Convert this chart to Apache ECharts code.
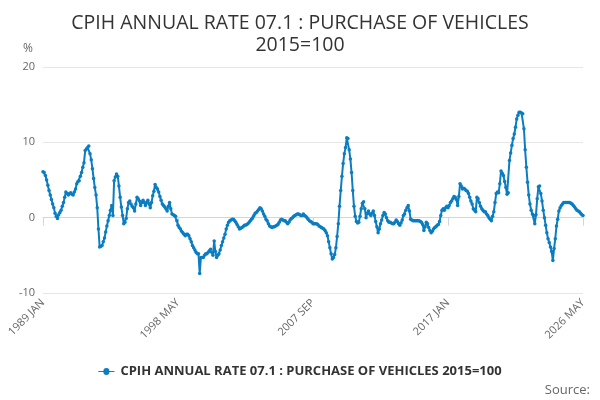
<!DOCTYPE html>
<html><head><meta charset="utf-8">
<script src="https://cdn.jsdelivr.net/npm/echarts@6/dist/echarts.min.js"></script>
<style>html,body{margin:0;padding:0;background:#fff}#c{width:600px;height:400px}</style>
</head><body><div id="c"></div>
<script>
const months = ["JAN","FEB","MAR","APR","MAY","JUN","JUL","AUG","SEP","OCT","NOV","DEC"];
const firstYear = 1989, lastYear = 2026, lastMonthCount = 5;
const values = [
6.1,6.0,5.6,5.0,4.3,3.6,3.0,2.4,1.8,1.3,0.6,0.2,
-0.1,0.4,0.7,1.0,1.5,2.0,2.7,3.4,3.2,3.0,3.2,3.3,
3.1,3.0,3.4,3.8,4.5,4.8,4.9,5.5,6.0,6.7,7.3,8.9,
9.1,9.3,9.5,8.5,7.7,6.5,5.2,4.0,3.0,1.3,-1.5,-3.9,
-3.8,-3.7,-3.2,-2.7,-1.9,-1.1,-0.4,0.3,1.0,1.6,0.3,4.9,
5.4,5.8,5.5,4.2,2.7,1.4,0.3,-0.8,-0.6,-0.1,1.2,2.0,
2.2,1.8,1.5,1.3,0.9,1.8,2.7,2.5,2.2,1.6,2.0,2.3,
2.0,1.6,2.0,2.3,1.8,1.3,2.0,2.9,3.5,4.4,4.0,3.8,
3.4,2.8,2.3,1.8,1.6,1.4,1.2,0.9,1.5,2.0,1.2,0.5,
0.4,0.3,0.2,-0.4,-1.0,-1.3,-1.5,-1.8,-2.0,-2.2,-2.4,-2.2,
-2.2,-2.4,-2.8,-3.2,-3.7,-4.0,-4.3,-4.6,-4.8,-4.8,-7.4,-5.3,
-5.3,-5.3,-5.0,-4.8,-4.8,-4.6,-4.4,-4.2,-4.6,-5.0,-3.1,-4.5,
-5.3,-5.0,-4.8,-4.3,-3.7,-3.2,-2.7,-2.2,-1.5,-1.0,-0.6,-0.4,
-0.3,-0.2,-0.2,-0.4,-0.6,-0.9,-1.2,-1.5,-1.4,-1.3,-1.2,-1.0,
-1.0,-0.9,-0.8,-0.6,-0.4,-0.2,0.0,0.3,0.6,0.7,0.9,1.1,
1.3,1.2,0.9,0.5,0.2,-0.2,-0.4,-0.8,-1.1,-1.2,-1.3,-1.2,
-1.2,-1.1,-1.0,-0.9,-0.6,-0.3,-0.2,-0.3,-0.4,-0.4,-0.6,-0.8,
-0.6,-0.3,-0.1,0.0,0.2,0.3,0.4,0.5,0.5,0.4,0.3,0.3,
0.5,0.3,0.2,0.0,-0.2,-0.4,-0.5,-0.6,-0.8,-0.8,-0.8,-0.8,
-0.9,-1.1,-1.2,-1.3,-1.4,-1.5,-1.7,-2.0,-2.4,-3.2,-4.0,-4.8,
-5.5,-5.3,-4.9,-4.0,-2.5,-0.8,1.5,3.6,5.5,7.2,8.5,9.3,
10.6,10.5,9.0,7.8,6.0,3.6,1.5,0.2,-0.5,-0.7,-0.6,0.2,
1.2,1.9,2.1,1.2,0.0,0.6,0.9,0.5,0.3,0.6,0.9,0.3,
-0.5,-1.2,-2.0,-1.5,-0.8,-0.3,0.3,0.7,0.5,0.0,-0.4,-0.6,
-0.6,-0.7,-0.8,-0.8,-0.6,-0.3,-0.5,-0.8,-1.0,-0.7,-0.3,0.3,
0.5,1.0,1.3,1.6,0.9,-0.2,-0.3,-0.4,-0.4,-0.4,-0.4,-0.4,
-0.4,-0.5,-0.6,-0.9,-1.7,-1.2,-0.6,-0.8,-1.3,-1.7,-2.0,-1.8,
-1.5,-1.3,-1.2,-1.0,-0.9,-0.5,0.3,1.0,1.2,1.0,1.3,1.5,
1.3,1.6,2.0,2.2,2.5,2.8,2.7,2.4,1.6,2.8,4.5,4.2,
3.8,3.9,3.8,3.6,3.5,3.2,2.7,2.2,1.8,1.2,1.0,0.8,
2.7,2.5,2.0,1.5,1.2,1.0,0.8,0.8,0.5,0.3,0.0,-0.2,
-0.4,0.2,0.8,2.0,3.2,3.4,3.3,4.5,6.2,5.9,5.6,4.8,
4.0,3.1,3.3,7.6,8.6,9.6,10.5,11.1,12.0,13.1,13.6,14.0,
14.0,13.9,13.8,11.8,9.0,6.7,4.7,3.0,1.8,1.0,0.5,0.3,
-0.8,0.4,2.5,4.1,4.2,3.2,2.2,1.0,0.0,-1.0,-2.0,-2.8,
-3.3,-3.9,-4.5,-5.7,-4.1,-2.8,-1.1,-0.2,0.9,1.3,1.6,1.8,
2.0,2.0,2.0,2.0,2.0,2.0,1.9,1.8,1.6,1.4,1.2,1.0,
0.9,0.8,0.6,0.4,0.3
];
const categories = [];
for (let y = firstYear; y <= lastYear; y++) {
  const n = y === lastYear ? lastMonthCount : 12;
  for (let m = 0; m < n; m++) categories.push(y + " " + months[m]);
}
const seriesName = "CPIH ANNUAL RATE 07.1 : PURCHASE OF VEHICLES 2015=100";
const chart = echarts.init(document.getElementById('c'));
chart.setOption({
  animation: false,
  title: { text: "CPIH ANNUAL RATE 07.1 : PURCHASE OF VEHICLES\n2015=100", left: 'center', top: 7,
    textStyle: { fontFamily: 'Open Sans', fontSize: 19.5, fontWeight: 'normal', color: '#333', lineHeight: 22 } },
  grid: { left: 43, right: 17, top: 67, bottom: 107 },
  legend: { bottom: 17, left: 'center', icon: 'path://M0 4L5 4A3 3 0 1 1 11 4L16 4L16 5L11 5A3 3 0 1 1 5 5L0 5Z', itemWidth: 18, itemHeight: 7,
    textStyle: { fontFamily: 'Open Sans', fontSize: 13, fontWeight: 'bold', color: '#333' } },
  xAxis: { type: 'category', data: categories, boundaryGap: false,
    axisLine: { lineStyle: { color: '#ccd6eb' } },
    axisTick: { interval: 111, length: 8, lineStyle: { color: '#ccd6eb' } },
    axisLabel: { interval: 111, rotate: 45, color: '#666', fontFamily: 'Open Sans', fontSize: 11, showMaxLabel: true } },
  yAxis: { type: 'value', min: -10, max: 20, interval: 10, name: '%', nameLocation: 'end', nameGap: 12,
    nameTextStyle: { color: '#666', fontFamily: 'Open Sans', fontSize: 12, align: 'right', padding: [0, 10, 0, 0] },
    axisLabel: { color: '#666', fontFamily: 'Open Sans', fontSize: 11 },
    splitLine: { lineStyle: { color: '#e6e6e6' } } },
  series: [{ name: seriesName, type: 'line', data: values, symbol: 'circle', symbolSize: 3.5, showSymbol: true, showAllSymbol: true,
    lineStyle: { color: '#0b7dc1', width: 2 }, itemStyle: { color: '#0b7dc1' } }],
  graphic: [{ type: 'text', right: 10, bottom: 3, style: { text: 'Source:', fill: '#666', font: '13px "Open Sans"' } }]
});
</script></body></html>
